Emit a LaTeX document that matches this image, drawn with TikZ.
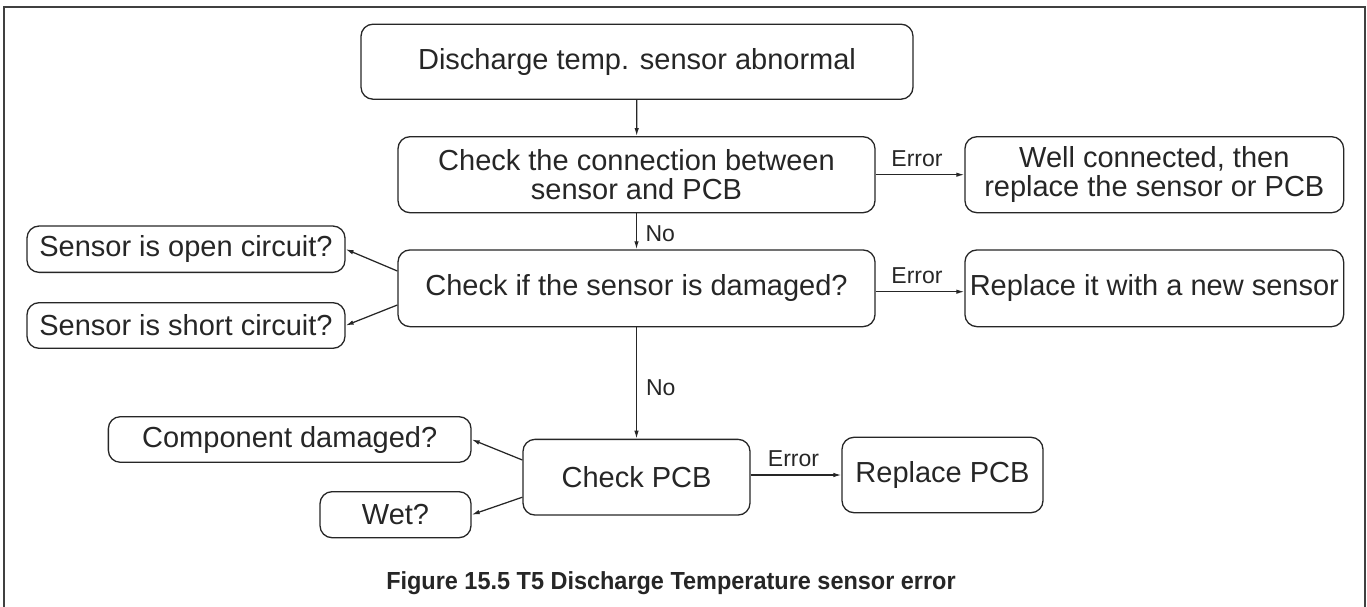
\documentclass[tikz,border=0pt]{standalone}
\usepackage{fontspec}
\setmainfont{Liberation Sans}
\newfontfamily\capfont[FakeStretch=0.95]{Liberation Sans}
\usetikzlibrary{arrows.meta,calc}
\definecolor{ink}{HTML}{262626}
\definecolor{framec}{HTML}{404040}
\tikzset{
  box/.style={draw=ink, line width=1.3pt, rounded corners=12pt, inner sep=0pt,
    align=center, text=ink, font=\fontsize{29}{29}\selectfont},
  arr/.style={draw=ink, line width=1.25pt, -{Latex[length=8pt,width=4.5pt]}},
  lbl/.style={text=ink, inner sep=0pt, font=\fontsize{23}{23}\selectfont},
}
\begin{document}
\begin{tikzpicture}[x=1pt,y=-1pt]
\useasboundingbox (0,0) rectangle (1367,607);
% frame (open at the bottom)
\draw[framec, line width=2.5pt] (4,607) -- (4,7) -- (1365,7) -- (1365,607);

% main column
\node[box, minimum width=552pt, minimum height=75pt] (top) at (637,61.7) {Discharge temp. sensor abnormal};
\node[box, minimum width=477pt, minimum height=76pt] (b2) at (636.5,174.7) {Check the connection between\\sensor and PCB};
\node[box, minimum width=477pt, minimum height=76.7pt] (b3) at (636.5,288.3) {Check if the sensor is damaged?};
\node[box, minimum width=227pt, minimum height=75.7pt] (pcb) at (636.5,477.2) {Check PCB};

% right column
\node[box, minimum width=378.7pt, minimum height=76pt] (r1) at (1154.3,174.7) {Well connected, then\\replace the sensor or PCB};
\node[box, minimum width=378.7pt, minimum height=76.7pt] (r2) at (1154.3,288.3) {Replace it with a new sensor};
\node[box, minimum width=201pt, minimum height=75.4pt] (rpcb) at (942.5,475) {Replace PCB};

% left side
\node[box, minimum width=318pt, minimum height=46.3pt] (open) at (186,249.2) {Sensor is open circuit?};
\node[box, minimum width=318pt, minimum height=45.6pt] (short) at (186,325.5) {Sensor is short circuit?};
\node[box, minimum width=362.7pt, minimum height=45.6pt] (comp) at (289.7,439.5) {Component damaged?};
\node[box, minimum width=151pt, minimum height=46pt] (wet) at (395.5,514.7) {Wet?};

% connectors
\draw[arr] (top) -- (b2);
\draw[arr] (b2) -- (b3) node[lbl, pos=0.57, anchor=west, xshift=8.5pt] {No};
\draw[arr] (b3) -- (pcb) node[lbl, pos=0.545, anchor=west, xshift=9pt] {No};
\draw[arr] (b2.east) -- (r1.west) node[lbl, midway, anchor=base, xshift=-3pt, yshift=8.3pt] {Error};
\draw[arr] ([yshift=-3.4pt]b3.east) -- ([yshift=-3.4pt]r2.west) node[lbl, midway, anchor=base, xshift=-3pt, yshift=8.4pt] {Error};
\draw[arr] (pcb.east |- rpcb.west) -- (rpcb.west) node[lbl, midway, anchor=base, xshift=-2.5pt, yshift=8.4pt] {Error};
\draw[arr] ([yshift=17.3pt]b3.west) -- (open.east);
\draw[arr] ([yshift=-16.7pt]b3.west) -- (short.east);
\draw[arr] ([yshift=17.2pt]pcb.west) -- (comp.east);
\draw[arr] ([yshift=-20pt]pcb.west) -- (wet.east);

% caption
\node[anchor=base, text=ink, inner sep=0pt, font=\capfont\fontsize{24.7}{24.7}\selectfont\bfseries] (cap) at (671,589) {Figure 15.5 T5 Discharge Temperature sensor error};
\end{tikzpicture}
\end{document}
